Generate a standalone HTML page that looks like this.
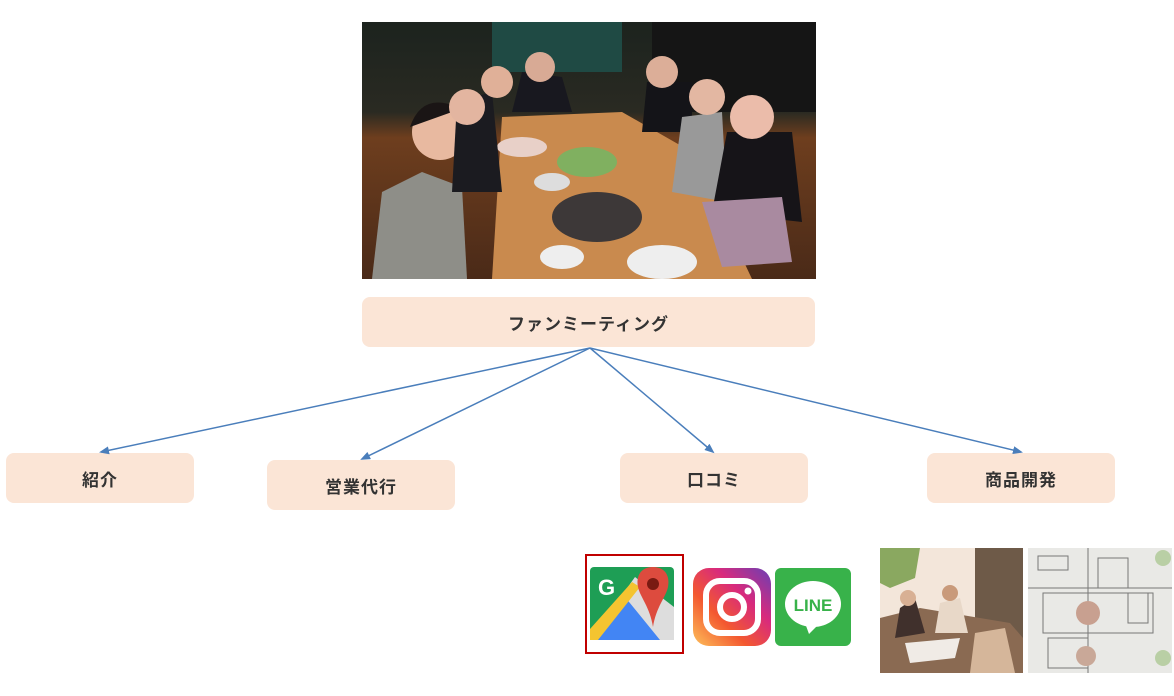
<!DOCTYPE html>
<html><head><meta charset="utf-8"><style>
html,body{margin:0;padding:0;background:#fff;width:1174px;height:696px;overflow:hidden;position:relative;font-family:"Liberation Sans","Noto Sans CJK JP",sans-serif}
.box{position:absolute;background:#fbe5d6;border-radius:8px;display:flex;align-items:center;justify-content:center;font-size:17px;font-weight:bold;color:#333;letter-spacing:1px}
.abs{position:absolute}
</style></head><body>
<svg class="abs" style="left:362px;top:22px" width="454" height="257" viewBox="0 0 454 257">
<defs><linearGradient id="bg" x1="0" y1="0" x2="0" y2="1"><stop offset="0" stop-color="#1c231e"/><stop offset="0.35" stop-color="#2a2a22"/><stop offset="0.45" stop-color="#6e3e1e"/><stop offset="1" stop-color="#4a2a18"/></linearGradient></defs>
<rect width="454" height="257" fill="url(#bg)"/>
<rect x="130" y="0" width="130" height="50" fill="#1f4a44"/>
<rect x="290" y="0" width="164" height="90" fill="#151515"/>
<polygon points="140,95 260,90 330,130 390,257 130,257" fill="#c98a4e"/>
<ellipse cx="235" cy="195" rx="45" ry="25" fill="#3d3838"/>
<ellipse cx="225" cy="140" rx="30" ry="15" fill="#80b060"/>
<ellipse cx="300" cy="240" rx="35" ry="17" fill="#eee"/>
<ellipse cx="200" cy="235" rx="22" ry="12" fill="#eee"/>
<ellipse cx="190" cy="160" rx="18" ry="9" fill="#ddd"/>
<ellipse cx="160" cy="125" rx="25" ry="10" fill="#e8d0c8"/>
<path d="M10,257 L20,170 L60,150 L100,165 L105,257Z" fill="#8e8e88"/>
<circle cx="78" cy="110" r="28" fill="#e8b9a0"/><path d="M48,105 Q60,70 95,85 L105,110 L90,90Z" fill="#1a1515"/>
<path d="M90,170 L95,80 L130,70 L140,170Z" fill="#1b1b20"/><circle cx="105" cy="85" r="18" fill="#e3b5a0"/>
<circle cx="135" cy="60" r="16" fill="#e0b098"/>
<path d="M150,90 L160,50 L200,55 L210,90Z" fill="#18181f"/><circle cx="178" cy="45" r="15" fill="#d8aa95"/>
<path d="M280,110 L285,60 L330,60 L330,110Z" fill="#141418"/><circle cx="300" cy="50" r="16" fill="#dcae98"/>
<path d="M310,170 L320,95 L360,90 L365,180Z" fill="#999"/><circle cx="345" cy="75" r="18" fill="#e3b7a2"/>
<path d="M350,190 L365,110 L430,110 L440,200Z" fill="#161418"/><circle cx="390" cy="95" r="22" fill="#ebbcaa"/>
<path d="M340,180 L420,175 L430,240 L360,245Z" fill="#a98aa0"/>
</svg>
<div class="box" style="left:362px;top:297px;width:453px;height:50px">ファンミーティング</div>
<div class="box" style="left:6px;top:453px;width:188px;height:50px">紹介</div>
<div class="box" style="left:267px;top:460px;width:188px;height:50px">営業代行</div>
<div class="box" style="left:620px;top:453px;width:188px;height:50px">口コミ</div>
<div class="box" style="left:927px;top:453px;width:188px;height:50px">商品開発</div>
<svg class="abs" style="left:0;top:0" width="1174" height="696">
<defs><marker id="a" markerWidth="10" markerHeight="8" refX="8" refY="4" orient="auto" markerUnits="userSpaceOnUse"><path d="M0,0 L10,4 L0,8Z" fill="#4a7ebb"/></marker></defs>
<g stroke="#4a7ebb" stroke-width="1.5" fill="none" marker-end="url(#a)">
<line x1="590" y1="348" x2="101" y2="452"/>
<line x1="590" y1="348" x2="362" y2="459"/>
<line x1="590" y1="348" x2="713" y2="452"/>
<line x1="590" y1="348" x2="1021" y2="452"/>
</g></svg>
<!-- google maps -->
<div class="abs" style="left:585px;top:554px;width:95px;height:96px;border:2px solid #c00000;background:#fff"></div>
<svg class="abs" style="left:590px;top:567px" width="84" height="73" viewBox="0 0 84 73">
<rect width="84" height="73" rx="4" fill="#1e9e55"/>
<polygon points="0,73 84,73 84,40 45,10" fill="#ddd"/>
<polygon points="0,73 70,73 35,30" fill="#4285f4"/>
<polygon points="0,62 0,73 8,73 50,20 42,15" fill="#f4c430"/>
<text x="8" y="28" font-size="22" font-weight="bold" fill="#fff" font-family="Liberation Sans,sans-serif">G</text>
<path d="M63,0 C50,0 46,10 48,20 C50,30 60,40 63,60 C66,40 76,30 78,20 C80,10 76,0 63,0Z" fill="#dd4b3e"/>
<circle cx="63" cy="17" r="6" fill="#7a1a12"/>
</svg>
<!-- instagram -->
<svg class="abs" style="left:693px;top:568px" width="78" height="78" viewBox="0 0 78 78">
<defs><linearGradient id="ig" x1="0" y1="1" x2="1" y2="0"><stop offset="0" stop-color="#fdc05a"/><stop offset="0.35" stop-color="#f35830"/><stop offset="0.65" stop-color="#d82a7d"/><stop offset="1" stop-color="#6a3fb5"/></linearGradient></defs>
<rect width="78" height="78" rx="16" fill="url(#ig)"/>
<rect x="13" y="13" width="52" height="52" rx="14" fill="none" stroke="#fff" stroke-width="6"/>
<circle cx="39" cy="39" r="12" fill="none" stroke="#fff" stroke-width="6"/>
<circle cx="55" cy="23" r="3.5" fill="#fff"/>
</svg>
<!-- LINE -->
<svg class="abs" style="left:775px;top:568px" width="76" height="78" viewBox="0 0 76 78">
<rect width="76" height="78" rx="6" fill="#38b24a"/>
<ellipse cx="38" cy="36" rx="28" ry="23" fill="#fff"/>
<path d="M30,55 L34,66 L44,56Z" fill="#fff"/>
<text x="38" y="43" text-anchor="middle" font-size="17" font-weight="bold" fill="#38b24a" font-family="Liberation Sans,sans-serif">LINE</text>
</svg>
<!-- meeting photo -->
<svg class="abs" style="left:880px;top:548px" width="143" height="125" viewBox="0 0 143 125">
<rect width="143" height="125" fill="#f3e6da"/>
<rect x="95" y="0" width="48" height="125" fill="#6e5a48"/>
<path d="M0,0 L40,0 L35,30 L10,40 L0,35Z" fill="#8aa860"/>
<path d="M0,125 L0,70 L40,60 L130,75 L143,90 L143,125Z" fill="#8a6a52"/>
<path d="M15,90 L20,60 L35,50 L45,85Z" fill="#40302c"/><circle cx="28" cy="50" r="8" fill="#d8b094"/>
<path d="M55,85 L60,55 L80,50 L88,85Z" fill="#e8d8c8"/><circle cx="70" cy="45" r="8" fill="#c99a7a"/>
<path d="M90,125 L95,85 L125,80 L135,125Z" fill="#d5b69a"/>
<path d="M25,95 L80,90 L75,110 L30,115Z" fill="#f0ebe6"/>
</svg>
<!-- floor plan -->
<svg class="abs" style="left:1028px;top:548px" width="144" height="125" viewBox="0 0 144 125">
<rect width="144" height="125" fill="#e9e9e6"/>
<g stroke="#777" stroke-width="1" fill="none">
<rect x="10" y="8" width="30" height="14"/><rect x="70" y="10" width="30" height="30"/>
<rect x="15" y="45" width="110" height="40"/><rect x="20" y="90" width="40" height="30"/>
<line x1="0" y1="40" x2="144" y2="40"/><line x1="60" y1="0" x2="60" y2="125"/>
<rect x="100" y="45" width="20" height="30"/>
</g>
<circle cx="60" cy="65" r="12" fill="#c8a090"/><circle cx="58" cy="108" r="10" fill="#c9a898"/>
<circle cx="135" cy="10" r="8" fill="#b9cfa5"/><circle cx="135" cy="110" r="8" fill="#b9cfa5"/>
</svg>
</body></html>
